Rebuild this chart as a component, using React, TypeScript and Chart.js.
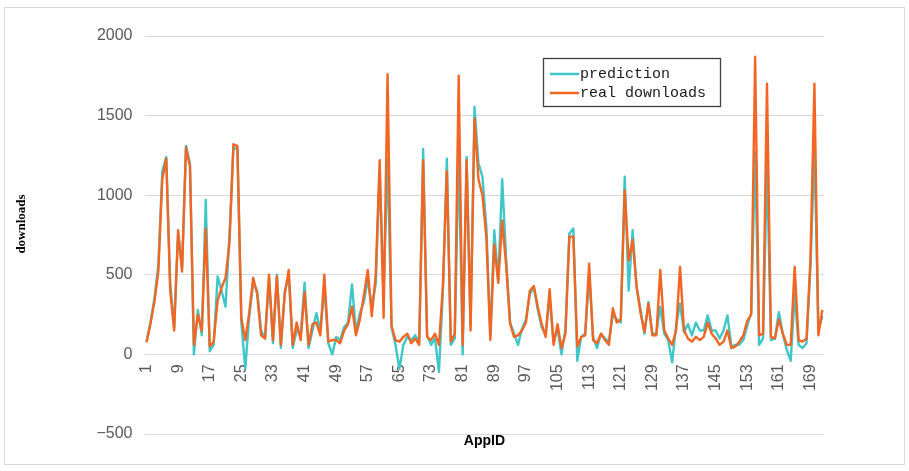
import React, { useEffect, useRef } from 'react';
import { Chart, registerables } from 'chart.js';

Chart.register(...registerables);

// Category labels: AppID 1..172
const appIds: string[] = Array.from({ length: 172 }, (_, i) => String(i + 1));

const realDownloads: number[] = [
  77, 190, 330, 520, 1100, 1230, 400, 150, 780, 520,
  1300, 1180, 60, 250, 150, 790, 50, 80, 340, 420,
  480, 700, 1320, 1310, 230, 90, 260, 480, 380, 120,
  100, 500, 90, 490, 60, 380, 530, 60, 200, 90,
  390, 60, 190, 200, 120, 500, 80, 90, 90, 70,
  150, 190, 300, 120, 220, 370, 530, 240, 500, 1220,
  230, 1760, 180, 90, 80, 110, 130, 70, 100, 60,
  1220, 110, 90, 130, 60, 430, 1150, 80, 130, 1750,
  60, 1220, 150, 1480, 1100, 1000, 733, 90, 690, 450,
  840, 560, 194, 110, 120, 150, 200, 400, 430, 300,
  190, 110, 410, 60, 190, 40, 130, 740, 740, 50,
  110, 120, 570, 90, 70, 130, 90, 60, 290, 200,
  220, 1030, 590, 720, 430, 260, 140, 320, 120, 120,
  530, 150, 100, 60, 150, 550, 150, 100, 80, 110,
  90, 110, 200, 130, 100, 60, 80, 150, 40, 50,
  80, 120, 210, 250, 1870, 120, 130, 1700, 110, 100,
  220, 130, 60, 60, 550, 90, 80, 100, 600, 1700,
  120, 280,
];

const prediction: number[] = [
  80, 200, 350, 560, 1150, 1240, 450, 170, 760, 550,
  1310, 1200, 0, 280, 120, 970, 20, 60, 490, 400,
  300, 750, 1300, 1290, 200, -90, 240, 450, 400, 150,
  100, 480, 70, 500, 40, 400, 490, 40, 150, 120,
  450, 40, 150, 260, 150, 420, 70, 0, 110, 90,
  170, 200, 440, 140, 260, 330, 470, 300, 440, 1150,
  400, 1230, 170, 60, -90, 60, 110, 90, 120, 80,
  1290, 120, 60, 100, -110, 400, 1230, 60, 100, 1280,
  0, 1240, 180, 1555, 1200, 1116, 800, 120, 780, 460,
  1100, 600, 200, 130, 60, 160, 220, 380, 420, 280,
  170, 130, 360, 80, 160, 0, 160, 760, 790, -40,
  110, 130, 500, 110, 40, 130, 100, 80, 250, 220,
  200, 1116, 400, 780, 420, 280, 130, 330, 130, 130,
  300, 130, 90, -50, 180, 320, 140, 190, 120, 200,
  150, 150, 245, 150, 150, 100, 150, 245, 50, 60,
  60, 90, 180, 260, 1270, 60, 100, 1200, 90, 100,
  265, 130, 30, -40, 380, 60, 40, 70, 550, 1300,
  150, 240,
];

const yMin = -500;
const yMax = 2000;
const yStep = 500;
const xLabelEvery = 8;

const seriesNames = ['prediction', 'real downloads'];
const CYAN = '#3fc6c8';
const ORANGE = '#f26522';

const decorPlugin = {
  id: 'decor',
  beforeDraw(chart: any) {
    const ctx = chart.ctx;
    ctx.save();
    ctx.fillStyle = '#ffffff';
    ctx.fillRect(0, 0, chart.width, chart.height);
    ctx.strokeStyle = '#d9d9d9';
    ctx.lineWidth = 1;
    ctx.strokeRect(4.5, 7.5, 900, 457);
    ctx.restore();
  },
  afterDraw(chart: any) {
    const ctx = chart.ctx;
    const area = chart.chartArea;
    ctx.save();
    // y-axis title
    ctx.translate(22, 224);
    ctx.rotate(-Math.PI / 2);
    ctx.fillStyle = '#000000';
    ctx.font = 'bold 13px "Liberation Serif"';
    ctx.textAlign = 'center';
    ctx.textBaseline = 'middle';
    ctx.fillText('downloads', 0, 0);
    ctx.restore();

    // x-axis title
    ctx.save();
    ctx.fillStyle = '#000000';
    ctx.font = 'bold 14px "Liberation Sans"';
    ctx.textAlign = 'center';
    ctx.textBaseline = 'middle';
    ctx.fillText('AppID', (area.left + area.right) / 2, 441);
    ctx.restore();

    // legend box
    ctx.save();
    ctx.strokeStyle = '#404040';
    ctx.lineWidth = 1.3;
    ctx.strokeRect(543.5, 58.5, 177, 48);
    const rows = [
      { name: seriesNames[0], color: CYAN, y: 74 },
      { name: seriesNames[1], color: ORANGE, y: 93 },
    ];
    ctx.font = '15px "Liberation Mono"';
    ctx.textBaseline = 'middle';
    ctx.textAlign = 'left';
    rows.forEach((r) => {
      ctx.strokeStyle = r.color;
      ctx.lineWidth = 2.5;
      ctx.beginPath();
      ctx.moveTo(550, r.y);
      ctx.lineTo(579, r.y);
      ctx.stroke();
      ctx.fillStyle = '#1a1a1a';
      ctx.fillText(r.name, 580, r.y);
    });
    ctx.restore();
  },
};

export default function App() {
  const ref = useRef<HTMLCanvasElement | null>(null);

  useEffect(() => {
    if (!ref.current) return;
    const chart = new Chart(ref.current, {
      type: 'line',
      data: {
        labels: appIds,
        datasets: [
          {
            label: seriesNames[1],
            data: realDownloads,
            borderColor: ORANGE,
            backgroundColor: ORANGE,
            borderWidth: 2.4,
            pointRadius: 0,
            tension: 0,
            borderJoinStyle: 'round',
          },
          {
            label: seriesNames[0],
            data: prediction,
            borderColor: CYAN,
            backgroundColor: CYAN,
            borderWidth: 2.4,
            pointRadius: 0,
            tension: 0,
            borderJoinStyle: 'round',
          },
        ],
      },
      options: {
        responsive: false,
        animation: false,
        events: [],
        layout: { padding: { left: 0, right: 84.7, top: 36, bottom: 37 } },
        plugins: {
          legend: { display: false },
          tooltip: { enabled: false },
          title: { display: false },
        },
        scales: {
          x: {
            type: 'category',
            offset: true,
            position: { y: 0 } as any,
            grid: { display: false, drawTicks: false },
            border: { display: false },
            ticks: {
              autoSkip: false,
              minRotation: 90,
              maxRotation: 90,
              padding: 10,
              color: '#595959',
              font: { family: '"Liberation Sans"', size: 16 },
              callback: (_v: any, idx: number) => (idx % xLabelEvery === 0 ? appIds[idx] : null),
            },
          },
          y: {
            min: yMin,
            max: yMax,
            grid: { color: '#d9d9d9', lineWidth: 1, drawTicks: false },
            border: { display: false },
            ticks: {
              stepSize: yStep,
              padding: 12,
              color: '#595959',
              font: { family: '"Liberation Sans"', size: 16 },
              callback: (v: any) => (Number(v) < 0 ? '\u2212' + Math.abs(Number(v)) : String(v)),
            },
            afterFit: (scale: any) => {
              scale.width = 144.5;
            },
          },
        },
      },
      plugins: [decorPlugin],
    });
    return () => chart.destroy();
  }, []);

  return (
    <div style={{ position: 'absolute', left: 0, top: 0, width: 909, height: 471, background: '#fff' }}>
      <canvas ref={ref} width={909} height={471} style={{ display: 'block', width: 909, height: 471 }} />
    </div>
  );
}
